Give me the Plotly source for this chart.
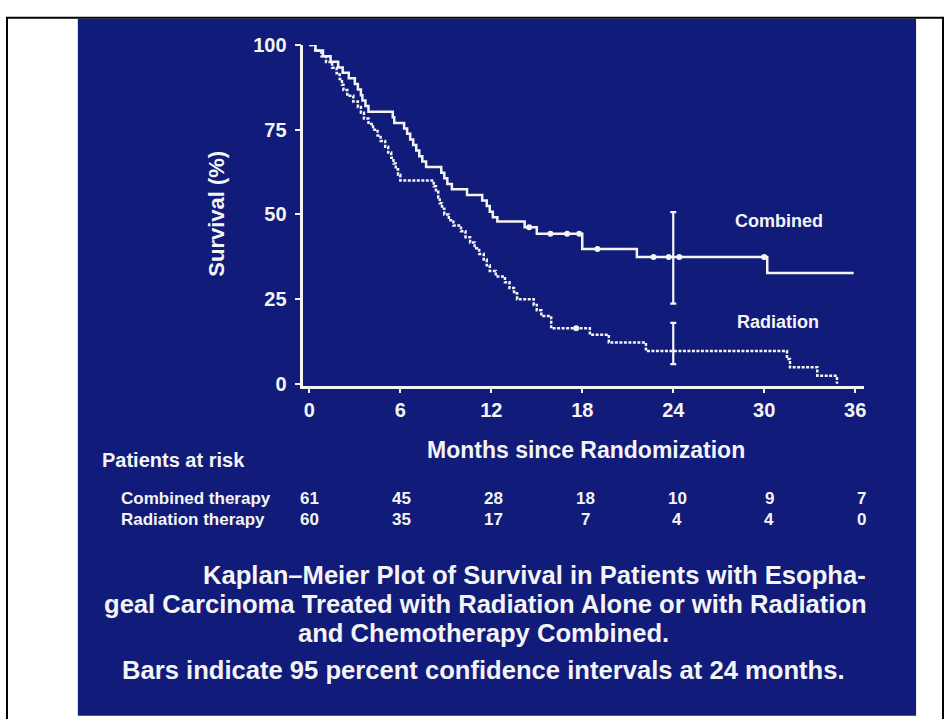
import numpy as np
import plotly.graph_objects as go

# Kaplan-Meier step curves: time of each event (months) and survival (%) after it
comb_t = [0, 0.4, 0.9, 1.4, 1.9, 2.2, 2.6, 3.0, 3.2, 3.4, 3.5, 3.7, 3.9,
          5.5, 5.6, 6.25, 6.45, 6.65, 6.85, 7.05, 7.25, 7.45, 7.7,
          8.7, 8.9, 9.1, 9.4, 10.4, 11.4, 11.7, 11.9, 12.1, 12.4,
          14.2, 15.0, 18.0, 21.6, 30.2, 35.9]
comb_s = [100, 98.4, 96.7, 95.1, 93.4, 91.8, 90.2, 88.5, 86.9, 85.2, 83.6, 82.0, 80.3,
          78.7, 77.0, 75.4, 73.8, 72.1, 70.5, 68.9, 67.2, 65.6, 64.0,
          62.3, 60.7, 59.0, 57.4, 55.7, 54.1, 52.5, 50.8, 49.2, 47.9,
          46.2, 44.3, 39.8, 37.4, 32.7, 32.7]

rad_t = [0, 0.4, 0.8, 1.1, 1.5, 1.8, 2.0, 2.15, 2.25, 2.5, 2.9, 3.2, 3.4, 3.6,
         3.9, 4.2, 4.5, 4.7, 5.0, 5.2, 5.4, 5.55, 5.7, 5.85, 6.0,
         8.2, 8.35, 8.5, 8.6, 8.75, 8.9, 9.2, 9.5, 10.0, 10.3, 10.6, 10.9,
         11.2, 11.5, 11.7, 11.9, 12.3, 12.9, 13.2, 13.5, 13.7, 14.8, 15.0,
         15.3, 15.95, 18.5, 19.75, 22.2, 31.5, 31.7, 33.5, 34.8]
rad_s = [100, 98.3, 96.7, 95.0, 93.3, 91.7, 90.0, 88.3, 86.7, 85.0, 83.3, 81.7, 80.0, 78.3,
         76.7, 75.0, 73.3, 71.7, 70.0, 68.3, 66.7, 65.0, 63.3, 61.7, 60.0,
         58.3, 56.7, 55.0, 53.3, 51.7, 50.0, 48.3, 46.7, 45.0, 43.3, 41.7, 40.0,
         38.3, 36.7, 35.0, 33.3, 31.7, 30.0, 28.3, 26.7, 25.0, 23.3, 21.7,
         20.0, 16.4, 14.5, 12.2, 9.7, 7.3, 4.9, 2.4, 0.0]

# Censored observations (months)
comb_cens = [14.5, 15.9, 17.0, 17.8, 19.0, 22.7, 23.7, 24.4, 30.0]
rad_cens = [17.6]

# 95% confidence intervals at 24 months: (estimate, lower, upper)
ci_month = 24
comb_ci = (37.4, 23.7, 50.7)
rad_ci = (9.7, 5.8, 18.0)

# Patients at risk
risk_months = [0, 6, 12, 18, 24, 30, 36]
risk_comb = [61, 45, 28, 18, 10, 9, 7]
risk_rad = [60, 35, 17, 7, 4, 4, 0]

x_ticks = [0, 6, 12, 18, 24, 30, 36]
y_ticks = [0, 25, 50, 75, 100]

caption = [
    "Kaplan\u2013Meier Plot of Survival in Patients with Esopha-",
    "geal Carcinoma Treated with Radiation Alone or with Radiation",
    "and Chemotherapy Combined.",
    "Bars indicate 95 percent confidence intervals at 24 months.",
]

W, H = 952, 719
BG = "#111b7a"
FG = "#f4f4f4"
FONT = "Liberation Sans, Arial, Helvetica, sans-serif"


def px(x):
    return x / W


def py(y):
    return 1 - y / H


def step_value(t_arr, s_arr, t):
    i = np.searchsorted(np.asarray(t_arr), t, side="right") - 1
    return s_arr[max(i, 0)]


def bold(size):
    return dict(size=size, color=FG, family=FONT, weight="bold")


fig = go.Figure()

# survival curves
fig.add_trace(go.Scatter(x=comb_t, y=comb_s, mode="lines", line_shape="hv",
                         line=dict(color=FG, width=2.5), cliponaxis=False,
                         hoverinfo="skip", showlegend=False))
fig.add_trace(go.Scatter(x=rad_t, y=rad_s, mode="lines", line_shape="hv",
                         line=dict(color=FG, width=2.5, dash="3px,1.5px"),
                         cliponaxis=False, hoverinfo="skip", showlegend=False))

# censor marks
fig.add_trace(go.Scatter(x=comb_cens, y=[step_value(comb_t, comb_s, t) for t in comb_cens],
                         mode="markers", marker=dict(color=FG, size=6),
                         hoverinfo="skip", showlegend=False))
fig.add_trace(go.Scatter(x=rad_cens, y=[step_value(rad_t, rad_s, t) for t in rad_cens],
                         mode="markers", marker=dict(color=FG, size=6),
                         hoverinfo="skip", showlegend=False))

# confidence interval bars
for est, lo, hi in (comb_ci, rad_ci):
    fig.add_trace(go.Scatter(
        x=[ci_month], y=[est], mode="markers", marker=dict(size=1, color=FG),
        error_y=dict(type="data", symmetric=False, array=[hi - est],
                     arrayminus=[est - lo], color=FG, thickness=2.2, width=3),
        hoverinfo="skip", showlegend=False))

annotations = []


def note(x, y, text, font, xref="paper", yref="paper", xanchor="center", **kw):
    annotations.append(dict(x=x, y=y, xref=xref, yref=yref, text=text, showarrow=False,
                            xanchor=xanchor, yanchor="middle", font=font, **kw))


# curve labels
note(31.0, 48.1, "Combined", bold(18), xref="x", yref="y")
note(30.9, 18.2, "Radiation", bold(18), xref="x", yref="y")

# axis titles
note(px(217), py(209), "Survival (%)", bold(22), textangle=-90)
note(px(587), py(452), "Months since Randomization", bold(23))

# patients at risk table
note(px(100), py(462), "Patients at risk", bold(20), xanchor="left")
for label, row, ypos in (("Combined therapy", risk_comb, 501),
                         ("Radiation therapy", risk_rad, 523)):
    note(px(119), py(ypos), label, bold(17), xanchor="left")
    for m, n in zip(risk_months, row):
        note(m, py(ypos), str(n), bold(17), xref="x", xshift=m / 6)

# caption
note(px(870), py(580), caption[0], bold(25.6), xanchor="right")
note(px(487), py(610), caption[1], bold(25.6))
note(px(485), py(640), caption[2], bold(25.6))
note(px(485), py(678), caption[3], bold(25.6))

shapes = [
    # slide frame
    dict(type="rect", xref="paper", yref="paper", x0=px(7), x1=px(945), y0=py(730), y1=py(7),
         line=dict(color="black", width=2), fillcolor="white", layer="below"),
    # blue slide panel
    dict(type="rect", xref="paper", yref="paper", x0=px(78), x1=px(918), y0=py(725), y1=py(8),
         line=dict(width=0), fillcolor=BG, layer="below"),
]

x_px_per_month = (857 - 310) / 36
y_px_per_pct = (383.5 - 35) / 100

fig.update_layout(
    width=W, height=H,
    margin=dict(l=0, r=0, t=0, b=0),
    paper_bgcolor="white",
    plot_bgcolor="rgba(0,0,0,0)",
    shapes=shapes,
    annotations=annotations,
    xaxis=dict(
        domain=[px(304), px(866)],
        range=[-(310 - 304) / x_px_per_month, (866 - 310) / x_px_per_month],
        tickvals=x_ticks, ticks="outside", ticklen=4, tickwidth=2, tickcolor=FG,
        showline=True, linecolor=FG, linewidth=2.5, showgrid=False, zeroline=False,
        ticklabelstandoff=0,
        tickfont=bold(20),
    ),
    yaxis=dict(
        domain=[py(386), py(35)],
        range=[-(386 - 383.5) / y_px_per_pct, 100],
        tickvals=y_ticks, ticks="outside", ticklen=6, tickwidth=2, tickcolor=FG,
        showline=True, linecolor=FG, linewidth=2.5, showgrid=False, zeroline=False,
        ticklabelstandoff=4,
        tickfont=bold(20),
    ),
)

# remove the default page margin so the figure sits flush in the window
fig.write_html("out.html",
               post_script="document.body.style.margin='0';"
                           "document.body.style.overflow='hidden';")
